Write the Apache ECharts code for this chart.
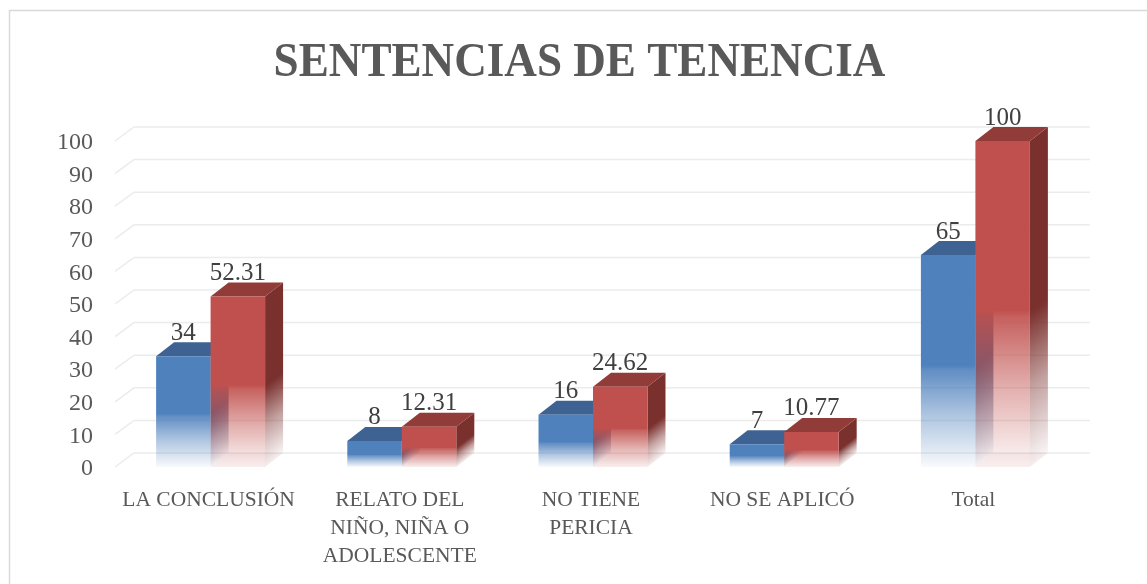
<!DOCTYPE html>
<html><head><meta charset="utf-8">
<style>html,body{margin:0;padding:0;background:#fff}#c{width:1147px;height:584px}</style>
<script src="https://cdn.jsdelivr.net/npm/echarts@6/dist/echarts.min.js"></script>
</head><body><div id="c"></div>
<script>
const titleText = 'SENTENCIAS DE TENENCIA';
const categories = ['LA CONCLUSIÓN', 'RELATO DEL\nNIÑO, NIÑA O\nADOLESCENTE', 'NO TIENE\nPERICIA', 'NO SE APLICÓ', 'Total'];
const cantidad = [34, 8, 16, 7, 65];
const porcentaje = [52.31, 12.31, 24.62, 10.77, 100];
const yTicks = [0, 10, 20, 30, 40, 50, 60, 70, 80, 90, 100];

const FONT = '"Liberation Serif", serif';
const DX = 18, DY = 14;

function stops(rgb, step) {
  const a = (al) => `rgba(${rgb},${al})`;
  return [
    { offset: 0, color: a(1) }, { offset: 0.52, color: a(1) }, { offset: 0.54, color: a(step) },
    { offset: 0.76, color: a(0.45) }, { offset: 1, color: a(0.04) }
  ];
}
function frontFade(rgb, top, bot) {
  return { type: 'linear', global: true, x: 0, y: top, x2: 0, y2: bot, colorStops: stops(rgb, 0.9) };
}
function sideFade(rgb, x, top, bot) {
  const k = (bot - top) * DX / (DX * DX + DY * DY);
  return { type: 'linear', global: true, x: x, y: top, x2: x + DY * k, y2: top + DX * k, colorStops: stops(rgb, 0.97) };
}
function barRenderer(slot, colors) {
  return function (params, api) {
    const cat = api.value(0), val = api.value(1);
    const c = api.coord([cat, val]), base = api.coord([cat, 0]);
    const w = api.size([1, 0])[0] * 0.285;
    const x0 = c[0] + (slot - 1) * w, x1 = x0 + w, t = c[1], b = base[1];
    const poly = (points, fill) => ({ type: 'polygon', shape: { points }, style: { fill }, silent: true });
    return { type: 'group', children: [
      poly([[x0, b], [x1, b], [x1 + DX, b - DY], [x0 + DX, b - DY]], `rgba(${colors.front},${colors.floor})`),
      poly([[x1, t], [x1 + DX, t - DY], [x1 + DX, b - DY], [x1, b]], sideFade(colors.side, x1, t, b)),
      poly([[x0, t], [x1, t], [x1 + DX, t - DY], [x0 + DX, t - DY]], `rgb(${colors.top})`),
      { type: 'rect', shape: { x: x0, y: t, width: w, height: b - t }, style: { fill: frontFade(colors.front, t, b) }, silent: true },
      { type: 'text', x: (x0 + x1) / 2, y: t - DY + 3.5, style: {
          text: String(val), fill: '#404040', font: '25px ' + FONT, align: 'center', verticalAlign: 'bottom' }, silent: true }
    ]};
  };
}
function gridRenderer(params, api) {
  const r = params.coordSys, y = api.coord([0, api.value(0)])[1];
  return { type: 'polyline', silent: true,
    shape: { points: [[r.x, y], [r.x + DX + 1, y - DY], [r.x + r.width + DX + 1, y - DY]] },
    style: { fill: 'none', stroke: '#ececec', lineWidth: 1.5 } };
}
const chart = echarts.init(document.getElementById('c'), null, { renderer: 'canvas', width: 1147, height: 584 });
chart.setOption({
  animation: false,
  backgroundColor: '#fff',
  graphic: [
    { type: 'polyline', silent: true, shape: { points: [[9.5, 590], [9.5, 10.5], [1150, 10.5]] }, style: { fill: 'none', stroke: '#d9d9d9', lineWidth: 1.5 } },
    { type: 'text', silent: true, x: 579.5, y: 64, scaleX: 0.94, style: { text: titleText, align: 'center', verticalAlign: 'middle',
        font: 'bold 48px ' + FONT, fill: '#595959' } }
  ],
  grid: { left: 115, right: 76, top: 141, bottom: 117 },
  xAxis: { type: 'category', data: categories, axisLine: { show: false }, axisTick: { show: false },
    axisLabel: { interval: 0, margin: 19, fontFamily: FONT, fontSize: 21.5, lineHeight: 28, color: '#595959', align: 'center', padding: [0, 4, 0, 0] } },
  yAxis: { type: 'value', min: 0, max: 100, interval: 10, splitLine: { show: false }, axisLine: { show: false }, axisTick: { show: false },
    axisLabel: { margin: 22, fontFamily: FONT, fontSize: 24, color: '#595959', verticalAlign: 'top', lineHeight: 4 } },
  series: [
    { type: 'custom', name: 'Rejilla', z: 1, renderItem: gridRenderer, encode: { y: 0 }, data: yTicks.map(v => [v]) },
    { type: 'custom', name: 'Cantidad', z: 2, renderItem: barRenderer(0, { front: '79,129,189', side: '58,96,141', top: '62,99,146', floor: 0 }),
      encode: { x: 0, y: 1 }, data: cantidad.map((v, i) => [i, v]) },
    { type: 'custom', name: 'Porcentaje', z: 3, renderItem: barRenderer(1, { front: '192,80,77', side: '122,48,45', top: '146,60,57', floor: 0.06 }),
      encode: { x: 0, y: 1 }, data: porcentaje.map((v, i) => [i, v]) }
  ]
});
</script></body></html>
